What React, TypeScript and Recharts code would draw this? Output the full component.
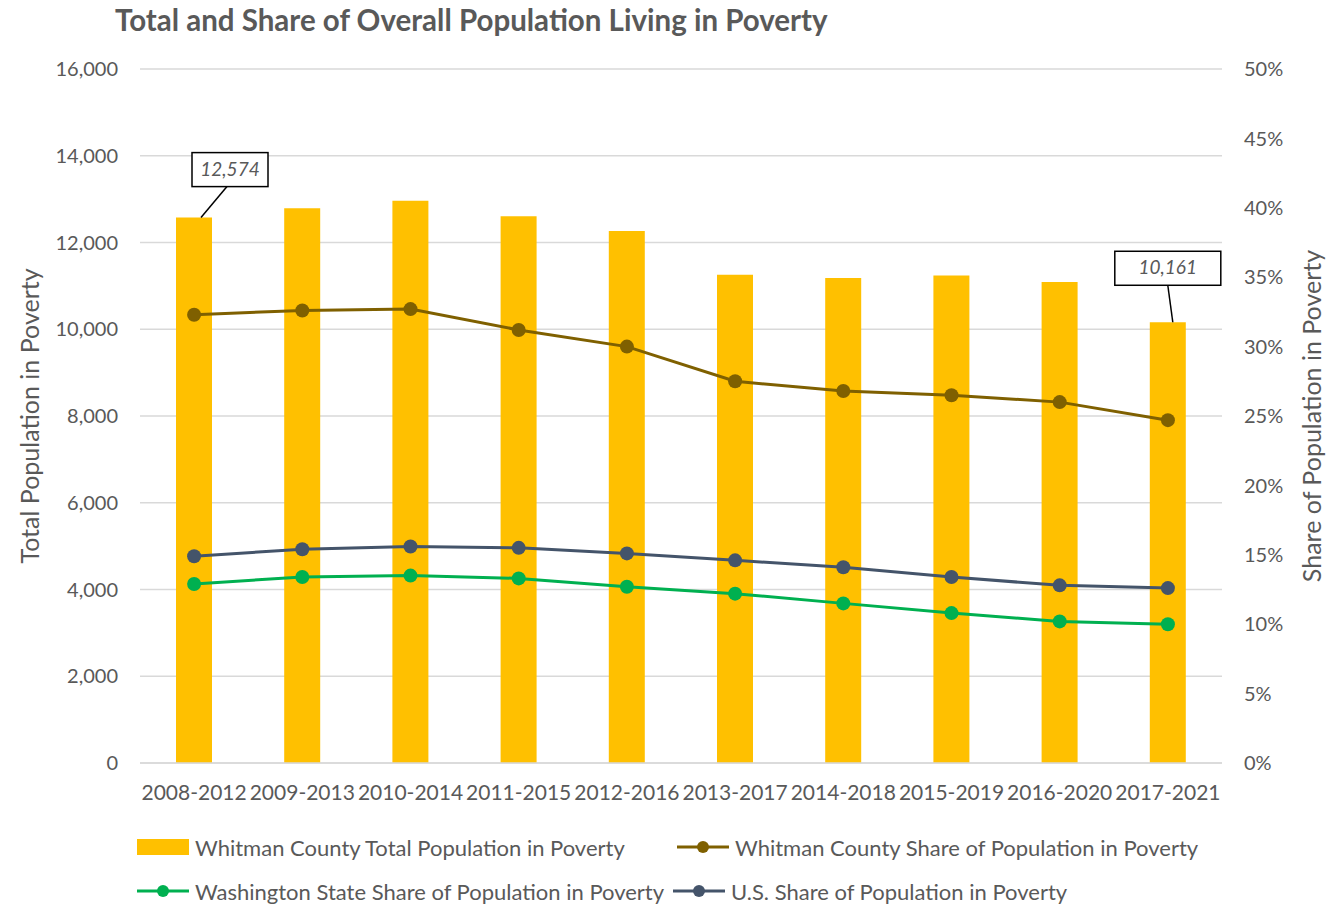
import React from "react";
import { ComposedChart, Bar, Line, XAxis, YAxis, CartesianGrid, LabelList } from "recharts";

const periods = ["2008-2012", "2009-2013", "2010-2014", "2011-2015", "2012-2016", "2013-2017", "2014-2018", "2015-2019", "2016-2020", "2017-2021"];
const whitmanTotal = [12574, 12790, 12960, 12603, 12266, 11258, 11181, 11242, 11089, 10161];
const whitmanShare = [32.3, 32.6, 32.7, 31.2, 30.0, 27.5, 26.8, 26.5, 26.0, 24.7];
const waShare = [12.9, 13.4, 13.5, 13.3, 12.7, 12.2, 11.5, 10.8, 10.2, 10.0];
const usShare = [14.9, 15.4, 15.6, 15.5, 15.1, 14.6, 14.1, 13.4, 12.8, 12.6];
const leftTicks = [0, 2000, 4000, 6000, 8000, 10000, 12000, 14000, 16000];
const rightTicks = [0, 5, 10, 15, 20, 25, 30, 35, 40, 45, 50];

const data = periods.map((p, i) => ({
  period: p,
  total: whitmanTotal[i],
  whitman: whitmanShare[i],
  wa: waShare[i],
  us: usShare[i],
}));

const GRAY = "#595959";
const FONT = "Lato, 'Open Sans', sans-serif";

function Callout(props: any) {
  const { x, y, width, value, index } = props;
  const last = index === periods.length - 1;
  if (index !== 0 && !last) return null;
  const cx = x + width / 2;
  const txt = Number(value).toLocaleString("en-US");
  if (!last) {
    const bx = cx - 2, by = y - 65, bw = 76, bh = 34;
    return (
      <g>
        <line x1={cx + 7} y1={y} x2={cx + 33} y2={by + bh} stroke="#000" strokeWidth={1.5} />
        <rect x={bx} y={by} width={bw} height={bh} fill="#fff" stroke="#000" strokeWidth={1.5} />
        <text x={bx + bw / 2} y={by + bh / 2 + 6} textAnchor="middle" fontStyle="italic" fontSize={19} fill={GRAY} fontFamily={FONT}>{txt}</text>
      </g>
    );
  }
  const bx = cx - 53, by = y - 71, bw = 106, bh = 34;
  return (
    <g>
      <line x1={cx + 5} y1={y} x2={cx} y2={by + bh} stroke="#000" strokeWidth={1.5} />
      <rect x={bx} y={by} width={bw} height={bh} fill="#fff" stroke="#000" strokeWidth={1.5} />
      <text x={bx + bw / 2} y={by + bh / 2 + 6} textAnchor="middle" fontStyle="italic" fontSize={19} fill={GRAY} fontFamily={FONT}>{txt}</text>
    </g>
  );
}

function LineSwatch({ color }: { color: string }) {
  return (
    <svg width={52} height={16} style={{ display: "block" }}>
      <line x1={0} y1={8} x2={52} y2={8} stroke={color} strokeWidth={3} />
      <circle cx={26} cy={8} r={6} fill={color} />
    </svg>
  );
}

function LegendItem({ left, top, swatch, label }: { left: number; top: number; swatch: React.ReactNode; label: string }) {
  return (
    <div style={{ position: "absolute", left, top, height: 26, display: "flex", alignItems: "center", gap: 6, fontSize: 22, color: GRAY, fontFamily: FONT, whiteSpace: "nowrap" }}>
      {swatch}
      <span>{label}</span>
    </div>
  );
}

export default function App() {
  const tickStyle = { fontSize: 20, fill: GRAY, fontFamily: FONT };
  return (
    <div style={{ position: "absolute", left: 0, top: 0, width: 1343, height: 904, background: "#fff", fontFamily: FONT }}>
      <div style={{ position: "absolute", left: 115, top: 2, fontSize: 29.5, fontWeight: 700, color: GRAY, whiteSpace: "nowrap" }}>
        Total and Share of Overall Population Living in Poverty
      </div>
      <ComposedChart width={1343} height={904} data={data} margin={{ top: 69, right: 0, left: 0, bottom: 101 }} barCategoryGap={72}>
        <CartesianGrid vertical={false} stroke="#d9d9d9" strokeWidth={1.5} yAxisId="left" />
        <XAxis dataKey="period" tickLine={false} axisLine={{ stroke: "#d9d9d9", strokeWidth: 1.5 }} tick={{ ...tickStyle, fontSize: 21 }} tickMargin={16} height={40} interval={0} />
        <YAxis
          yAxisId="left"
          domain={[0, 16000]}
          ticks={leftTicks}
          tickFormatter={(v: number) => v.toLocaleString("en-US")}
          width={140}
          axisLine={false}
          tickLine={false}
          tickMargin={16}
          tick={tickStyle}
          label={{ value: "Total Population in Poverty", angle: -90, position: "insideLeft", offset: 30, style: { fontSize: 25, fill: GRAY, fontFamily: FONT, textAnchor: "middle" } }}
        />
        <YAxis
          yAxisId="right"
          orientation="right"
          domain={[0, 50]}
          ticks={rightTicks}
          tickFormatter={(v: number) => v + "%"}
          width={121}
          axisLine={false}
          tickLine={false}
          tickMargin={16}
          tick={tickStyle}
          label={{ value: "Share of Population in Poverty", angle: -90, position: "insideRight", offset: 31, style: { fontSize: 25, fill: GRAY, fontFamily: FONT, textAnchor: "middle" } }}
        />
        <Bar yAxisId="left" dataKey="total" fill="#ffc000" barSize={36} isAnimationActive={false}>
          <LabelList dataKey="total" content={<Callout />} />
        </Bar>
        <Line yAxisId="right" dataKey="whitman" stroke="#7f6000" strokeWidth={3} dot={{ r: 7, fill: "#7f6000", stroke: "#7f6000", strokeWidth: 0 }} isAnimationActive={false} />
        <Line yAxisId="right" dataKey="us" stroke="#44546a" strokeWidth={3} dot={{ r: 7, fill: "#44546a", stroke: "#44546a", strokeWidth: 0 }} isAnimationActive={false} />
        <Line yAxisId="right" dataKey="wa" stroke="#00b050" strokeWidth={3} dot={{ r: 7, fill: "#00b050", stroke: "#00b050", strokeWidth: 0 }} isAnimationActive={false} />
      </ComposedChart>
      <LegendItem left={137} top={834} swatch={<div style={{ width: 52, height: 16, background: "#ffc000" }} />} label="Whitman County Total Population in Poverty" />
      <LegendItem left={677} top={834} swatch={<LineSwatch color="#7f6000" />} label="Whitman County Share of Population in Poverty" />
      <LegendItem left={137} top={878} swatch={<LineSwatch color="#00b050" />} label="Washington State Share of Population in Poverty" />
      <LegendItem left={673} top={878} swatch={<LineSwatch color="#44546a" />} label="U.S. Share of Population in Poverty" />
    </div>
  );
}
